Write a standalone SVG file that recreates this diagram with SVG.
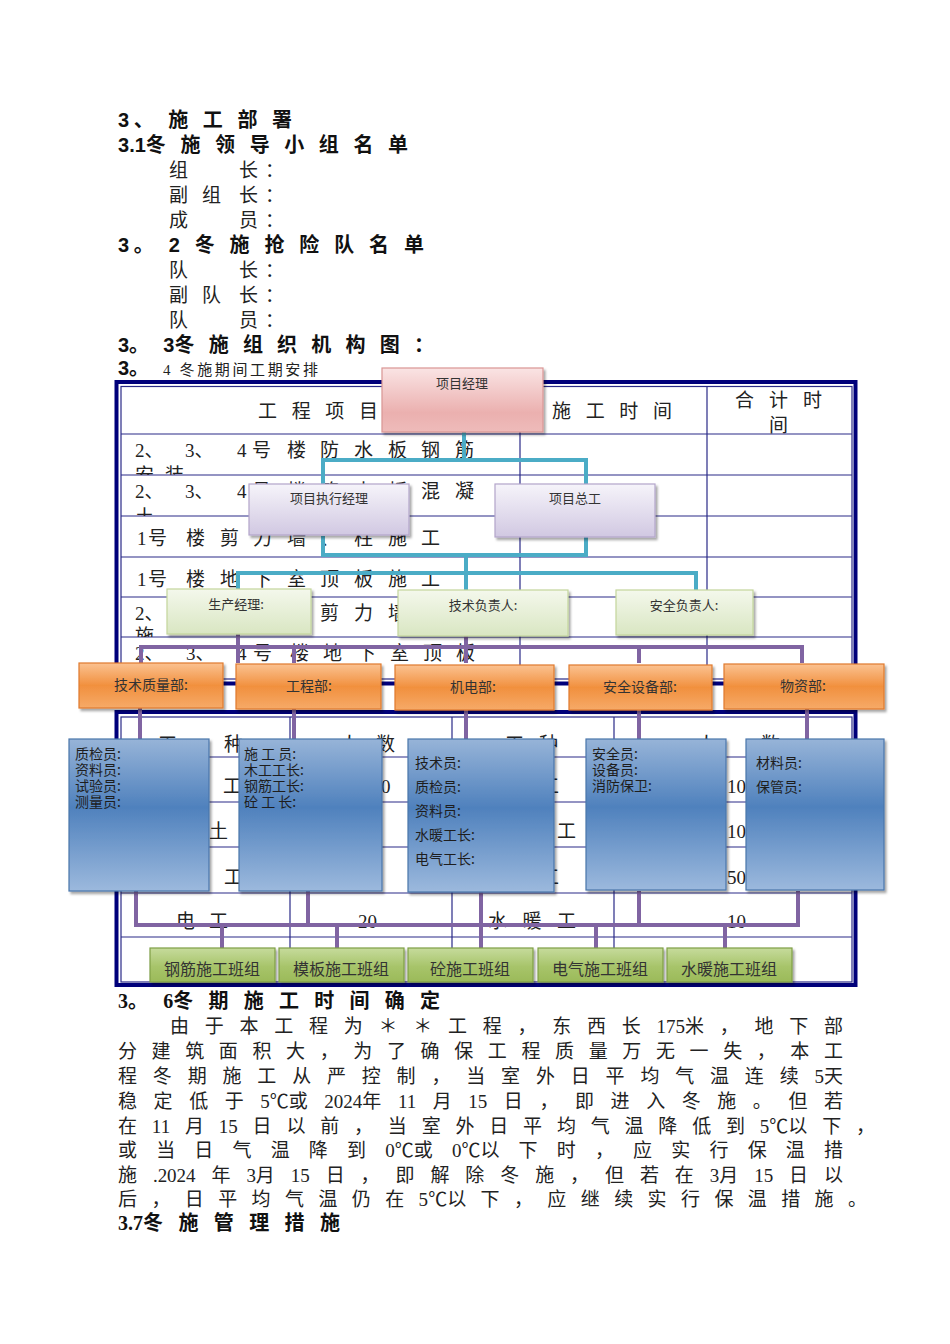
<svg xmlns="http://www.w3.org/2000/svg" width="950" height="1344" viewBox="0 0 950 1344">
<style>
.h{font-family:'Liberation Sans','Noto Sans CJK SC',sans-serif;font-weight:bold;font-size:20px;fill:#111}
.hs{font-family:'Liberation Serif','Noto Sans CJK SC',serif;font-weight:bold;font-size:20px;fill:#111}
.n{font-family:'Noto Sans CJK SC',sans-serif;font-size:19px;fill:#222}
.b{font-family:'Liberation Serif','Noto Sans CJK SC',serif;font-size:19px;fill:#222}
.t{font-family:'Liberation Serif','Noto Sans CJK SC',serif;font-size:19px;fill:#222}
.lab{font-family:'Noto Sans CJK SC',sans-serif;font-size:13px;fill:#333;text-anchor:middle}
.olab{font-family:'Noto Sans CJK SC',sans-serif;font-size:14px;fill:#333;text-anchor:middle}
.blab{font-family:'Noto Sans CJK SC',sans-serif;font-size:14px;fill:#1e1e1e}
.glab{font-family:'Noto Sans CJK SC',sans-serif;font-size:16px;fill:#333;text-anchor:middle}
.thick{fill:none;stroke:#00007a;stroke-width:4}
.thin{fill:none;stroke:#2a2a88;stroke-width:1.2}
.tl{stroke:#2a2a88;stroke-width:1.2}
.teal{fill:none;stroke:#4bacc6;stroke-width:4}
.purp{fill:none;stroke:#8064a2;stroke-width:4}
.pink{fill:url(#gPink);stroke:#d99694;stroke-width:1.2}
.lav{fill:url(#gLav);stroke:#b3a5ca;stroke-width:1.2}
.lgr{fill:url(#gLgr);stroke:#c3d69b;stroke-width:1.2}
.org{fill:url(#gOrg);stroke:#e07a2e;stroke-width:1.2}
.blu{fill:url(#gBlu);stroke:#4a76ab;stroke-width:1.2}
.grn{fill:url(#gGrn);stroke:#7f9f45;stroke-width:1.2}
</style>
<defs>
<linearGradient id="gPink" x1="0" y1="0" x2="0" y2="1"><stop offset="0" stop-color="#fae4e4"/><stop offset="0.7" stop-color="#ebb0af"/><stop offset="1" stop-color="#eebbba"/></linearGradient>
<linearGradient id="gLav" x1="0" y1="0" x2="0" y2="1"><stop offset="0" stop-color="#f6f4fa"/><stop offset="1" stop-color="#d1c8e2"/></linearGradient>
<linearGradient id="gLgr" x1="0" y1="0" x2="0" y2="1"><stop offset="0" stop-color="#f4f8ec"/><stop offset="1" stop-color="#d9e6c2"/></linearGradient>
<linearGradient id="gOrg" x1="0" y1="0" x2="0" y2="1"><stop offset="0" stop-color="#fbc291"/><stop offset="0.5" stop-color="#f1903e"/><stop offset="1" stop-color="#f6aa68"/></linearGradient>
<linearGradient id="gBlu" x1="0" y1="0" x2="0" y2="1"><stop offset="0" stop-color="#97b4d8"/><stop offset="0.45" stop-color="#4f81bd"/><stop offset="1" stop-color="#9cb9dd"/></linearGradient>
<linearGradient id="gGrn" x1="0" y1="0" x2="0" y2="1"><stop offset="0" stop-color="#c6db9c"/><stop offset="0.55" stop-color="#a7c46a"/><stop offset="1" stop-color="#9bba59"/></linearGradient>
<filter id="sh" x="-5%" y="-5%" width="115%" height="125%"><feDropShadow dx="2" dy="2.5" stdDeviation="1" flood-color="#000" flood-opacity="0.35"/></filter>
<clipPath id="cR1"><rect x="121" y="434" width="399" height="41"/></clipPath>
<clipPath id="cR2"><rect x="121" y="475" width="399" height="41"/></clipPath>
<clipPath id="cR5"><rect x="121" y="597" width="399" height="40"/></clipPath>
<clipPath id="cH3"><rect x="707" y="386" width="145" height="48"/></clipPath>
</defs>
<rect width="950" height="1344" fill="#fff"/>

<g id="text-top">
<text class="h" x="118" y="127" textLength="174" lengthAdjust="spacing">3、 施 工 部 署</text>
<text class="h" x="118" y="152" style="word-spacing:9px" textLength="290" lengthAdjust="spacing">3.1冬 施 领 导 小 组 名 单</text>
<text class="n" x="169 190 211 239 265" y="177">组　　长：</text>
<text class="n" x="169 188 202 221 239 258 265" y="202">副 组 长 ：</text>
<text class="n" x="169 190 211 239 265" y="227">成　　员：</text>
<text class="h" x="118" y="252" textLength="306" lengthAdjust="spacing">3。 2 冬 施 抢 险 队 名 单</text>
<text class="n" x="169 190 211 239 265" y="277">队　　长：</text>
<text class="n" x="169 188 202 221 239 258 265" y="302">副 队 长 ：</text>
<text class="n" x="169 190 211 239 265" y="327">队　　员：</text>
<text class="h" x="118" y="352" style="word-spacing:8.7px" textLength="316" lengthAdjust="spacing">3。 3冬 施 组 织 机 构 图 ：</text>
<text class="h" x="118" y="375">3。</text>
<text class="b" x="163" y="375" style="font-size:15px" textLength="155" lengthAdjust="spacing">4 冬施期间工期安排</text>
</g>

<g id="table1">
<rect class="thick" x="116.5" y="382" width="739" height="301.5"/>
<rect class="thin" x="121" y="386.5" width="731" height="292.5"/>
<path class="tl" d="M121 434H852M121 475H852M121 516H852M121 557H852M121 597H852M121 637H852M520 386.5V679M707 386.5V679"/>
<text class="t" x="258" y="418" textLength="120" lengthAdjust="spacing">工 程 项 目</text>
<text class="t" x="552" y="418" textLength="120" lengthAdjust="spacing">施 工 时 间</text>
<text class="t" x="735" y="407" textLength="87" lengthAdjust="spacing">合 计 时</text>
<text class="t" x="769" y="432" clip-path="url(#cH3)">间</text>
<text class="t" x="135 144.5 164 185 194.5 214 237 252 271 287 306 320 339 354 373 388 407 421 440 455" y="457">2、 3、 4号 楼 防 水 板 钢 筋</text>
<text class="t" x="135 154 165" y="482" clip-path="url(#cR1)">安 装</text>
<text class="t" x="135 144.5 164 185 194.5 214 237 252 271 287 306 320 339 354 373 388 407 421 440 455" y="498">2、 3、 4号 楼 筏 大 板 混 凝</text>
<text class="t" x="135" y="524" clip-path="url(#cR2)">土</text>
<text class="t" x="137 148 166 186 205 220 239 253 272 287 306 320 339 354 373 388 407 421" y="545">1号 楼 剪 力 墙 、 柱 施 工</text>
<text class="t" x="137 148 166 186 205 220 239 253 272 287 306 320 339 354 373 388 407 421" y="586">1号 楼 地 下 室 顶 板 施 工</text>
<text class="t" x="135 144.5 164 185 194.5 214 237 252 271 287 306 320 339 354 373 388" y="620">2、 3、 4号 楼 剪 力 墙</text>
<text class="t" x="135" y="643" clip-path="url(#cR5)">施</text>
<text class="t" x="135 144.5 164 186 195.5 215 237 253 272 290 309 323 342 357 376 390 409 423 442 456" y="660">2、 3、 4号 楼 地 下 室 顶 板</text>
</g>

<g id="table2">
<rect class="thick" x="116.5" y="712" width="739" height="273"/>
<rect class="thin" x="121" y="717" width="731" height="265"/>
<path class="tl" d="M121 757H852M121 802H852M121 847H852M121 893H852M121 937H852M290 717V982M452 717V982M614 717V982"/>
<text class="t" x="158" y="751" textLength="85" lengthAdjust="spacing">工 种</text>
<text class="t" x="340" y="751" textLength="55" lengthAdjust="spacing">人 数</text>
<text class="t" x="505" y="751" textLength="53" lengthAdjust="spacing">工 种</text>
<text class="t" x="697" y="751" textLength="83" lengthAdjust="spacing">人 数</text>
<text class="t" x="223" y="793">工</text>
<text class="t" x="381" y="793">0</text>
<text class="t" x="540" y="793">工</text>
<text class="t" x="727" y="793">10</text>
<text class="t" x="209" y="838">土</text>
<text class="t" x="557" y="838">工</text>
<text class="t" x="727" y="838">10</text>
<text class="t" x="224" y="884">工</text>
<text class="t" x="540" y="884">工</text>
<text class="t" x="727" y="884">50</text>
<text class="t" x="176" y="928" textLength="52" lengthAdjust="spacing">电 工</text>
<text class="t" x="358" y="928">20</text>
<text class="t" x="488" y="928" textLength="88" lengthAdjust="spacing">水 暖 工</text>
<text class="t" x="727" y="928">10</text>
</g>

<g id="connectors">
<path class="teal" d="M464 432V460M323 484V460H586V485M323 536V555H586V537M466 555V591M238 590V573H696V590"/>
<path class="purp" d="M141 663V647H802V663M238 634V663M294 647V663M466 636V663M639 647V663"/>
<path class="purp" d="M140 708V739M294 708V739M466 708V739M639 708V739M807 708V740"/>
<path class="purp" d="M136 891V925H798V891M308 890V925M481 891V948M639 891V925M222 925V948M337 925V948M596 925V948M725 925V948"/>
</g>

<g id="node-xmjl"><rect class="pink" x="382" y="368" width="161" height="64" filter="url(#sh)"/><text class="lab" x="462" y="388">项目经理</text></g>
<g id="node-zxjl"><rect class="lav" x="249" y="484" width="160" height="51" filter="url(#sh)"/><text class="lab" x="329" y="503">项目执行经理</text></g>
<g id="node-xmzg"><rect class="lav" x="495" y="484" width="160" height="53" filter="url(#sh)"/><text class="lab" x="575" y="503">项目总工</text></g>
<g id="node-scjl"><rect class="lgr" x="167" y="589" width="144" height="45" filter="url(#sh)"/><text class="lab" x="236" y="609">生产经理:</text></g>
<g id="node-jsfzr"><rect class="lgr" x="398" y="590" width="170" height="46" filter="url(#sh)"/><text class="lab" x="483" y="610">技术负责人:</text></g>
<g id="node-aqfzr"><rect class="lgr" x="616" y="590" width="137" height="45" filter="url(#sh)"/><text class="lab" x="684" y="610">安全负责人:</text></g>

<g id="node-jszlb"><rect class="org" x="79" y="663" width="144" height="45" filter="url(#sh)"/><text class="olab" x="151" y="690">技术质量部:</text></g>
<g id="node-gcb"><rect class="org" x="236" y="664" width="145" height="45" filter="url(#sh)"/><text class="olab" x="309" y="691">工程部:</text></g>
<g id="node-jdb"><rect class="org" x="395" y="665" width="159" height="45" filter="url(#sh)"/><text class="olab" x="473" y="692">机电部:</text></g>
<g id="node-aqsbb"><rect class="org" x="569" y="665" width="143" height="45" filter="url(#sh)"/><text class="olab" x="640" y="692">安全设备部:</text></g>
<g id="node-wzb"><rect class="org" x="724" y="664" width="160" height="45" filter="url(#sh)"/><text class="olab" x="803" y="691">物资部:</text></g>

<g id="node-b1"><rect class="blu" x="69" y="739" width="140" height="152" filter="url(#sh)"/>
<text class="blab" x="75" y="759">质检员:</text><text class="blab" x="75" y="775">资料员:</text><text class="blab" x="75" y="791">试验员:</text><text class="blab" x="75" y="807">测量员:</text></g>
<g id="node-b2"><rect class="blu" x="239" y="739" width="143" height="152" filter="url(#sh)"/>
<text class="blab" x="244" y="759">施 工 员:</text><text class="blab" x="244" y="775">木工工长:</text><text class="blab" x="244" y="791">钢筋工长:</text><text class="blab" x="244" y="807">砼 工 长:</text></g>
<g id="node-b3"><rect class="blu" x="408" y="739" width="146" height="153" filter="url(#sh)"/>
<text class="blab" x="415" y="768">技术员:</text><text class="blab" x="415" y="792">质检员:</text><text class="blab" x="415" y="816">资料员:</text><text class="blab" x="415" y="840">水暖工长:</text><text class="blab" x="415" y="864">电气工长:</text></g>
<g id="node-b4"><rect class="blu" x="586" y="739" width="140" height="151" filter="url(#sh)"/>
<text class="blab" x="592" y="759">安全员:</text><text class="blab" x="592" y="775">设备员:</text><text class="blab" x="592" y="791">消防保卫:</text></g>
<g id="node-b5"><rect class="blu" x="746" y="739" width="138" height="151" filter="url(#sh)"/>
<text class="blab" x="756" y="768">材料员:</text><text class="blab" x="756" y="792">保管员:</text></g>

<g id="node-g1"><rect class="grn" x="150" y="948" width="125" height="34" filter="url(#sh)"/><text class="glab" x="212" y="975">钢筋施工班组</text></g>
<g id="node-g2"><rect class="grn" x="279" y="948" width="125" height="34" filter="url(#sh)"/><text class="glab" x="341" y="975">模板施工班组</text></g>
<g id="node-g3"><rect class="grn" x="408" y="948" width="125" height="34" filter="url(#sh)"/><text class="glab" x="470" y="975">砼施工班组</text></g>
<g id="node-g4"><rect class="grn" x="538" y="948" width="125" height="34" filter="url(#sh)"/><text class="glab" x="600" y="975">电气施工班组</text></g>
<g id="node-g5"><rect class="grn" x="667" y="948" width="125" height="34" filter="url(#sh)"/><text class="glab" x="729" y="975">水暖施工班组</text></g>

<g id="text-bottom">
<text class="hs" x="118" y="1008" style="word-spacing:10.2px" textLength="322" lengthAdjust="spacing">3。 6冬 期 施 工 时 间 确 定</text>
<text class="b" x="170" y="1033" style="word-spacing:11px" textLength="673" lengthAdjust="spacing">由 于 本 工 程 为 ＊ ＊ 工 程 ， 东 西 长 175米 ， 地 下 部</text>
<text class="b" x="118" y="1058" style="word-spacing:9.9px" textLength="725" lengthAdjust="spacing">分 建 筑 面 积 大 ， 为 了 确 保 工 程 质 量 万 无 一 失 ， 本 工</text>
<text class="b" x="118" y="1083" style="word-spacing:11.1px" textLength="725" lengthAdjust="spacing">程 冬 期 施 工 从 严 控 制 ， 当 室 外 日 平 均 气 温 连 续 5天</text>
<text class="b" x="118" y="1108" style="word-spacing:11.8px" textLength="725" lengthAdjust="spacing">稳 定 低 于 5℃或 2024年 11 月 15 日 ， 即 进 入 冬 施 。 但 若</text>
<text class="b" x="118" y="1133" style="word-spacing:10px" textLength="757" lengthAdjust="spacing">在 11 月 15 日 以 前 ， 当 室 外 日 平 均 气 温 降 低 到 5℃以 下 ，</text>
<text class="b" x="118" y="1157" style="word-spacing:14.4px" textLength="725" lengthAdjust="spacing">或 当 日 气 温 降 到 0℃或 0℃以 下 时 ， 应 实 行 保 温 措</text>
<text class="b" x="118" y="1182" style="word-spacing:11.2px" textLength="725" lengthAdjust="spacing">施 .2024 年 3月 15 日 ， 即 解 除 冬 施 ， 但 若 在 3月 15 日 以</text>
<text class="b" x="118" y="1206" style="word-spacing:9.6px" textLength="749" lengthAdjust="spacing">后 ， 日 平 均 气 温 仍 在 5℃以 下 ， 应 继 续 实 行 保 温 措 施 。</text>
<text class="hs" x="118" y="1230" style="word-spacing:10.4px" textLength="222" lengthAdjust="spacing">3.7冬 施 管 理 措 施</text>
</g>
</svg>
